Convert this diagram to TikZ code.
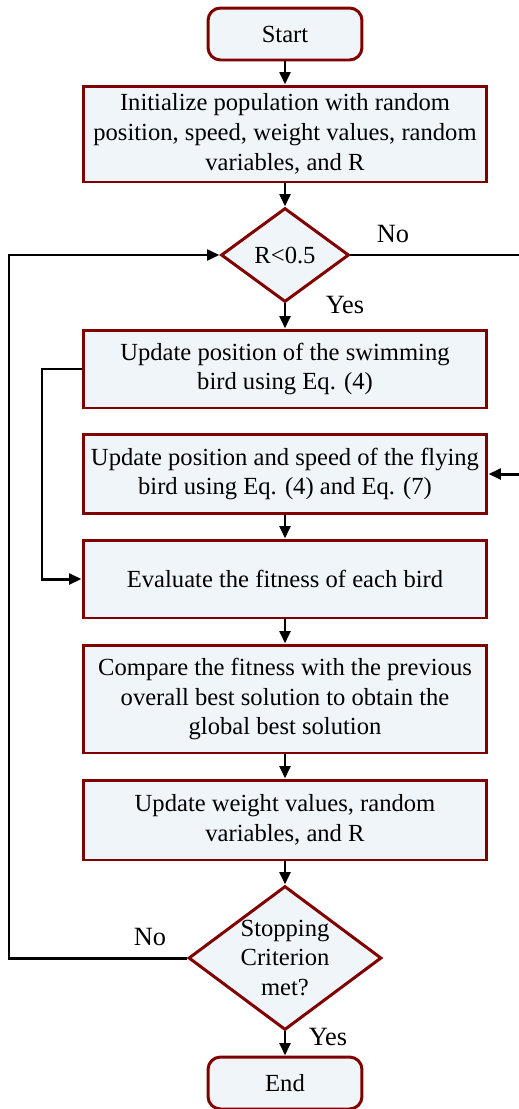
\documentclass[tikz,border=0pt]{standalone}
\usepackage{fontspec}
\setmainfont{Liberation Serif}
\usetikzlibrary{arrows.meta,positioning,shapes.geometric}

\definecolor{boxred}{RGB}{128,0,0}
\definecolor{boxfill}{RGB}{240,245,250}

\begin{document}
\begin{tikzpicture}[x=0.02cm,y=-0.02cm,
  every node/.style={font=\fontsize{14}{17}\selectfont},
  procbox/.style={draw=boxred, fill=boxfill, line width=1.7pt, minimum width=8.08cm, align=center, inner sep=2pt},
  termbox/.style={draw=boxred, fill=boxfill, line width=1.7pt, rounded corners=0.25cm, minimum width=3.08cm, minimum height=1.04cm},
  decbox/.style={diamond, draw=boxred, fill=boxfill, line width=1.7pt, align=center, inner sep=-0.4cm},
  flow/.style={-{Triangle[length=7pt,width=6pt]}, line width=1.7pt}]
  \useasboundingbox (0,0) rectangle (518,1109);

  % Main column
  \node[termbox] (start) at (285,34) {Start};
  \node[procbox, minimum height=1.92cm] (init) at (285,134) {Initialize population with random\\position, speed, weight values, random\\variables, and R};
  \node[decbox, minimum width=2.56cm, minimum height=1.88cm] (rcheck) at (285,255) {R<0.5};
  \node[procbox, minimum height=1.56cm] (swim) at (285,369) {Update position of the swimming\\bird using Eq. (4)};
  \node[procbox, minimum height=1.58cm] (fly) at (285,474) {Update position and speed of the flying\\bird using Eq. (4) and Eq. (7)};
  \node[procbox, minimum height=1.56cm] (eval) at (285,579) {Evaluate the fitness of each bird};
  \node[procbox, minimum height=2.16cm] (comp) at (285,699) {Compare the fitness with the previous\\overall best solution to obtain the\\global best solution};
  \node[procbox, minimum height=1.6cm] (upd) at (285,820) {Update weight values, random\\variables, and R};
  \node[decbox, minimum width=3.86cm, minimum height=2.88cm] (stop) at (285,958) {Stopping\\Criterion\\met?};
  \node[termbox] (finish) at (285,1083) {End};

  % Turning points
  \coordinate (rturn) at (522,255);
  \coordinate (lturn) at (9,958);
  \coordinate (sturn) at (42,369);

  % Straight arrows
  \draw[flow] (start) -- (init);
  \draw[flow] (init) -- (rcheck);
  \draw[flow] (rcheck) -- (swim);
  \draw[flow] (fly) -- (eval);
  \draw[flow] (eval) -- (comp);
  \draw[flow] (comp) -- (upd);
  \draw[flow] (upd) -- (stop);
  \draw[flow] (stop) -- (finish);

  % Loops
  \draw[flow] (rcheck.east) -- (rturn) |- (fly.east);
  \draw[flow] (swim.west) -- (sturn) |- (eval.west);
  \draw[flow] (stop.west) -- (lturn) |- (rcheck.west);

  % Labels
  \node[font=\fontsize{15}{17}\selectfont] (nor) at (393,234) {No};
  \node[font=\fontsize{15}{17}\selectfont] (yesr) at (345,305) {Yes};
  \node[font=\fontsize{15}{17}\selectfont] (nos) at (150,937) {No};
  \node[font=\fontsize{15}{17}\selectfont] (yess) at (328,1037) {Yes};
\end{tikzpicture}
\end{document}
